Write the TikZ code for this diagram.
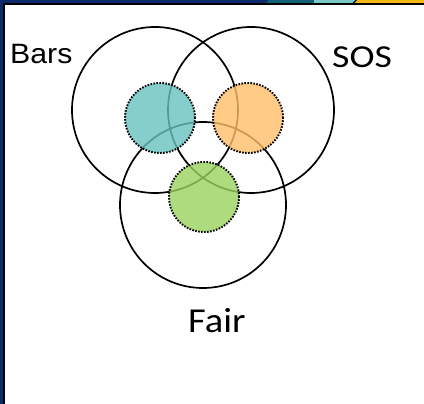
\documentclass[tikz,border=0pt]{standalone}
\usepackage{fontspec}
\setmainfont{Carlito}
\newfontfamily\arialfont{Liberation Sans}
\definecolor{navy}{HTML}{0B2B6B}
\definecolor{dteal}{HTML}{125F78}
\definecolor{lteal}{HTML}{7CC8C8}
\definecolor{gold}{HTML}{F4B914}
\definecolor{tealfill}{RGB}{104,194,190}
\definecolor{orangefill}{RGB}{255,191,106}
\definecolor{greenfill}{RGB}{156,211,96}
\tikzset{
  bigc/.style={circle, draw=black, line width=1.7pt, minimum size=166pt, inner sep=0pt},
  smallc/.style={circle, draw=black, line width=1.9pt, dash pattern=on 1.6pt off 1.4pt, fill opacity=0.8, minimum size=70pt, inner sep=0pt},
  lbl/.style={inner sep=0pt, text=black}
}
\begin{document}
\begin{tikzpicture}[x=1pt,y=-1pt]
\useasboundingbox (0,0) rectangle (424,404);
\fill[white] (0,0) rectangle (424,404);
% top band
\fill[navy] (0,0) rectangle (270,3);
\fill[dteal] (266,3) -- (269,0) -- (314,0) -- (314,3) -- cycle;
\fill[lteal] (314,0) rectangle (356,3);
\fill[gold] (354,3) -- (357,0) -- (424,0) -- (424,3) -- cycle;
\draw[black, line width=1.2pt] (353,3.2) -- (356.5,0);
\fill[black] (3,3) rectangle (424,4.6);
% left border
\fill[navy] (0,0) rectangle (3,404);
\fill[black] (3,3) rectangle (4.6,404);
% big circles
\node[bigc] (bars) at (155,110) {};
\node[bigc] (sos) at (251,110) {};
\node[bigc] (fair) at (203,205) {};
% dotted circles
\node[smallc, fill=tealfill] (tealc) at (160,118) {};
\node[smallc, fill=orangefill] (orangec) at (248,118) {};
\node[smallc, fill=greenfill] (greenc) at (204,197) {};
% labels
\node[lbl, anchor=base west, font=\arialfont\fontsize{28}{33}\selectfont, xscale=1.08] (barsl) at (10,63.5) {Bars};
\node[lbl, anchor=base west, font=\fontsize{32}{38}\selectfont, xscale=1.18] (sosl) at (332,67.5) {SOS};
\node[lbl, anchor=base west, font=\fontsize{35}{42}\selectfont, xscale=1.1] (fairl) at (188,332) {Fair};
\end{tikzpicture}
\end{document}
